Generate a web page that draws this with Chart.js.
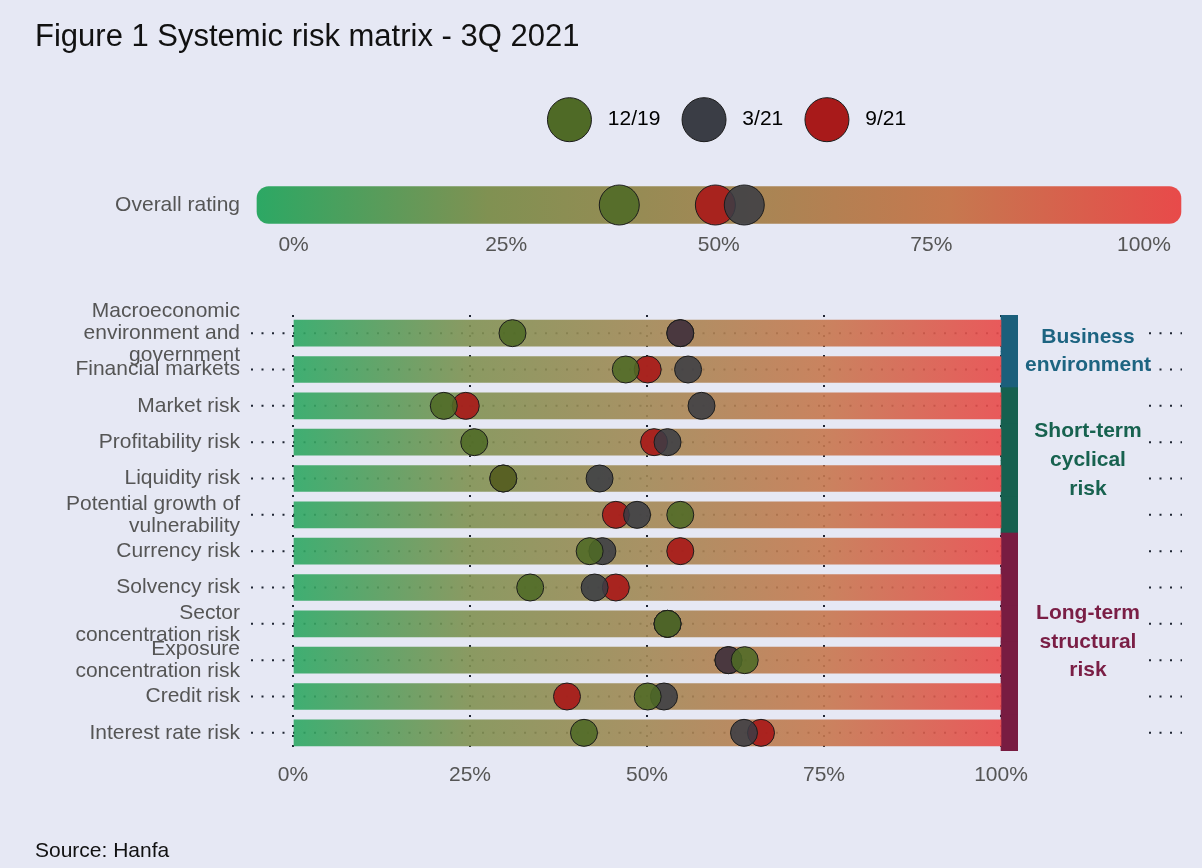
<!DOCTYPE html>
<html>
<head>
<meta charset="utf-8">
<script src="https://cdn.jsdelivr.net/npm/chart.js@4.4.0/dist/chart.umd.min.js"></script>
<style>
    html, body { margin: 0; padding: 0; background: #e6e8f4; }
    #wrap { position: relative; width: 1202px; height: 868px; background: #e6e8f4; }
    #topChart { position: absolute; left: 0; top: 0; }
    #mainChart { position: absolute; left: 0; top: 270px; }
</style>
</head>
<body>
<div id="wrap">
    <canvas id="topChart" width="1202" height="270" style="width:1202px;height:270px"></canvas>
    <canvas id="mainChart" width="1202" height="598" style="width:1202px;height:598px"></canvas>
</div>
<script>
// data
const seriesNames = ['12/19', '3/21', '9/21']
const overallRating = [38.3, 53.0, 49.6]

const riskLabels = [
    ['Macroeconomic', 'environment and', 'government'],
    'Financial markets',
    'Market risk',
    'Profitability risk',
    'Liquidity risk',
    ['Potential growth of', 'vulnerability'],
    'Currency risk',
    'Solvency risk',
    ['Sector', 'concentration risk'],
    ['Exposure', 'concentration risk'],
    'Credit risk',
    'Interest rate risk'
]
const dec19 = [31.0, 47.0, 21.3, 25.6, 29.7, 54.7, 41.9, 33.5, 52.9, 63.8, 50.1, 41.1]
const mar21 = [54.7, 55.8, 57.7, 52.9, 43.3, 48.6, 43.7, 42.6, 52.9, 61.5, 52.4, 63.7]
const sep21 = [54.7, 50.1, 24.4, 51.0, 29.7, 45.6, 54.7, 45.6, 52.9, 61.5, 38.7, 66.1]

const groupNames = [['Business', 'environment'], ['Short-term', 'cyclical', 'risk'], ['Long-term', 'structural', 'risk']]
const groupSizes = [2, 4, 6]
const xTicks = [0, 25, 50, 75, 100]

// styles
const FONT = "'Liberation Sans', Arial, sans-serif"
const dotFill = ['rgba(79,106,38,0.88)', 'rgba(58,61,69,0.86)', 'rgba(168,24,24,0.9)']
const legendFill = ['#4f6a26', '#3a3d45', '#a81a1a']
const groupBar = ['#1b5f7b', '#16604f', '#781c41']
const groupText = ['#1d6481', '#17624f', '#7a1e45']
const gradStops = [[0, [44, 168, 100]], [0.25, [128, 145, 82]], [0.5, [162, 136, 85]], [0.75, [198, 120, 79]], [1, [232, 74, 74]]]
const gridColor = '#1f2533'

Chart.defaults.font.family = FONT
Chart.defaults.animation = false

function gradient(chart, from, to, alpha) {
    if (!chart.chartArea) return 'rgba(0,0,0,0)'
    const x = chart.scales.x
    const g = chart.ctx.createLinearGradient(x.getPixelForValue(from), 0, x.getPixelForValue(to), 0)
    gradStops.forEach(s => {
        g.addColorStop(s[0], 'rgba(' + s[1].join(',') + ',' + alpha + ')')
    })
    return g
}

function noPadding(s) {
    s.paddingTop = 0
    s.paddingBottom = 0
    s.paddingLeft = 0
    s.paddingRight = 0
}

// ---------- top chart: overall rating ----------
const topMin = -4.3, topMax = 106.19
const barStart = -4.3, barEnd = 104.35

const topPoints = seriesNames.map((name, i) => ({
    type: 'line',
    label: name,
    data: [{x: overallRating[i], y: 0}],
    showLine: false,
    clip: false,
    pointRadius: 20,
    pointHoverRadius: 20,
    backgroundColor: dotFill[i],
    borderColor: '#1c1c1c',
    pointBorderWidth: 1,
    order: i + 1
}))

new Chart(document.getElementById('topChart'), {
    type: 'bar',
    data: {
        datasets: [
            {
                data: [{x: [barStart, barEnd], y: 0}],
                backgroundColor: (ctx) => gradient(ctx.chart, barStart, barEnd, 1),
                barThickness: 37,
                borderRadius: 12,
                borderSkipped: false,
                clip: false,
                order: 10
            },
            ...topPoints
        ]
    },
    options: {
        indexAxis: 'y',
        responsive: false,
        layout: {autoPadding: false, padding: {left: 35, right: 5.4, top: 19, bottom: 0}},
        events: [],
        scales: {
            x: {
                type: 'linear',
                min: topMin,
                max: topMax,
                afterBuildTicks: s => { s.ticks = xTicks.map(v => ({value: v})) },
                afterFit: s => { s.height = 65; noPadding(s) },
                ticks: {
                    callback: v => v + '%',
                    color: '#555',
                    font: {size: 21, lineHeight: 1.2},
                    padding: 27.4,
                    maxRotation: 0
                },
                grid: {display: false, drawTicks: false},
                border: {display: false}
            },
            y: {
                type: 'linear',
                offset: false,
                min: 0,
                max: 1,
                afterBuildTicks: s => { s.ticks = [{value: 0}] },
                afterFit: s => { s.width = 222; noPadding(s) },
                ticks: {
                    callback: () => 'Overall rating',
                    color: '#555',
                    font: {size: 21},
                    padding: 17
                },
                grid: {display: false, drawTicks: false},
                border: {display: false}
            }
        },
        plugins: {
            title: {
                display: true,
                text: 'Figure 1 Systemic risk matrix - 3Q 2021',
                align: 'start',
                color: '#111',
                font: {size: 31, weight: 'normal', lineHeight: 1.2},
                padding: {top: 0, bottom: 19.8}
            },
            legend: {
                position: 'top',
                fullSize: false,
                labels: {
                    boxWidth: 44,
                    boxHeight: 44,
                    padding: 21.7,
                    color: '#111',
                    font: {size: 21},
                    useBorderRadius: true,
                    borderRadius: 22,
                    generateLabels: () => seriesNames.map((name, i) => ({
                        text: ' ' + name,
                        fillStyle: legendFill[i],
                        strokeStyle: '#1a1a1a',
                        lineWidth: 1,
                        borderRadius: 22,
                        hidden: false,
                        datasetIndex: i + 1
                    }))
                }
            },
            tooltip: {enabled: false}
        }
    }
})

// ---------- main chart: risk matrix ----------
const mainMax = 102.4
const rowGroup = []
groupSizes.forEach((n, g) => { for (let k = 0; k < n; k++) rowGroup.push(g) })

const rowDots = {
    id: 'rowDots',
    beforeDatasetsDraw(chart) {
        const {ctx, chartArea, scales} = chart
        ctx.save()
        ctx.strokeStyle = gridColor
        ctx.lineWidth = 2
        ctx.setLineDash([2, 8.5])
        riskLabels.forEach((l, i) => {
            const y = scales.y.getPixelForValue(i)
            ctx.beginPath()
            ctx.moveTo(chartArea.left - 42, y)
            ctx.lineTo(scales.x.getPixelForValue(100), y)
            ctx.stroke()
            ctx.beginPath()
            ctx.moveTo(chartArea.right + 131, y)
            ctx.lineTo(chartArea.right + 164, y)
            ctx.stroke()
        })
        ctx.restore()
    },
    afterDatasetsDraw(chart) {
        const {ctx, chartArea, scales} = chart
        ctx.save()
        ctx.font = 'bold 21px ' + FONT
        ctx.textAlign = 'center'
        ctx.textBaseline = 'middle'
        let start = 0
        groupNames.forEach((lines, g) => {
            const mid = (scales.y.getPixelForValue(start) + scales.y.getPixelForValue(start + groupSizes[g] - 1)) / 2
            const lh = 28.7
            ctx.fillStyle = groupText[g]
            lines.forEach((t, k) => {
                ctx.fillText(t, chartArea.right + 70, mid + (k - (lines.length - 1) / 2) * lh)
            })
            start += groupSizes[g]
        })
        ctx.restore()
    }
}

const mainPoints = [dec19, mar21, sep21].map((vals, i) => ({
    type: 'line',
    label: seriesNames[i],
    data: vals,
    showLine: false,
    pointRadius: 13.5,
    pointHoverRadius: 13.5,
    backgroundColor: dotFill[i],
    borderColor: '#1c1c1c',
    pointBorderWidth: 1,
    order: i + 1
}))

new Chart(document.getElementById('mainChart'), {
    type: 'bar',
    data: {
        labels: riskLabels,
        datasets: [
            {
                data: riskLabels.map(() => [0, 100]),
                backgroundColor: (ctx) => gradient(ctx.chart, 0, 100, 0.9),
                barThickness: 26,
                grouped: false,
                order: 10
            },
            {
                data: riskLabels.map(() => [100, mainMax]),
                backgroundColor: rowGroup.map(g => groupBar[g]),
                categoryPercentage: 1,
                barPercentage: 1,
                grouped: false,
                order: 11
            },
            ...mainPoints
        ]
    },
    options: {
        indexAxis: 'y',
        responsive: false,
        events: [],
        layout: {padding: {left: 35, right: 184, top: 45, bottom: 0}},
        scales: {
            x: {
                type: 'linear',
                min: 0,
                max: mainMax,
                afterBuildTicks: s => { s.ticks = xTicks.map(v => ({value: v})) },
                afterFit: s => { s.height = 87.4; noPadding(s) },
                ticks: {
                    callback: v => v + '%',
                    color: '#555',
                    font: {size: 21, lineHeight: 1.2},
                    padding: 11.4,
                    maxRotation: 0
                },
                grid: {color: gridColor, lineWidth: 2, drawTicks: false},
                border: {display: false, dash: [2, 8]}
            },
            y: {
                offset: true,
                afterFit: s => { s.width = 258; noPadding(s) },
                ticks: {
                    color: '#555',
                    font: {size: 21, lineHeight: 1.05},
                    padding: 53,
                    autoSkip: false
                },
                grid: {display: false, drawTicks: false},
                border: {display: false}
            }
        },
        plugins: {
            legend: {display: false},
            tooltip: {enabled: false},
            subtitle: {
                display: true,
                text: 'Source: Hanfa',
                position: 'bottom',
                align: 'start',
                color: '#111',
                font: {size: 21, weight: 'normal', lineHeight: 1.2},
                padding: {top: 0, bottom: 4.4}
            }
        }
    },
    plugins: [rowDots]
})
</script>
</body>
</html>
